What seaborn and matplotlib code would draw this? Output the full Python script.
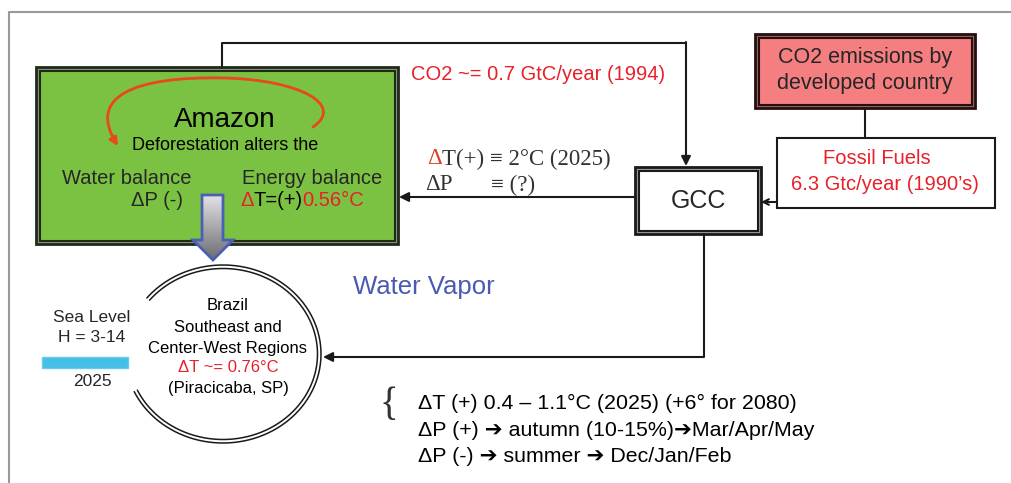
import numpy as np
import matplotlib
matplotlib.use("Agg")
import matplotlib.pyplot as plt
import seaborn as sns
from matplotlib.patches import Rectangle, Polygon, FancyArrowPatch
from matplotlib.path import Path

# Labels used in the diagram
amazon_title = "Amazon"
amazon_sub = "Deforestation alters the"
balance_labels = ["Water balance", "Energy balance"]
co2_link = "CO2 ~= 0.7 GtC/year (1994)"
emission_lines = ["CO2 emissions by", "developed country"]
fossil_lines = ["Fossil Fuels", "6.3 Gtc/year (1990\u2019s)"]
gcc_label = "GCC"
gcc_effects = ["T(+) \u2261 2\u00b0C (2025)", "\u2261 (?)"]
vapor_label = "Water Vapor"
region_lines = ["Brazil", "Southeast and", "Center-West Regions",
                "\u0394T ~= 0.76\u00b0C", "(Piracicaba, SP)"]
sea_lines = ["Sea Level", "H = 3-14", "2025"]
scenario_lines = ["\u0394T (+) 0.4 \u2013 1.1\u00b0C (2025) (+6\u00b0 for 2080)",
                  "\u0394P (+) \u2794 autumn (10-15%)\u2794Mar/Apr/May",
                  "\u0394P (-) \u2794 summer \u2794 Dec/Jan/Feb"]

sns.set_theme(style="white")
plt.rcParams['font.family'] = ['Liberation Sans', 'DejaVu Sans']
SERIF = ['Liberation Serif', 'DejaVu Serif']
RED = '#e8202a'
DARK = '#1a1a1a'

fig = plt.figure(figsize=(10.11, 4.83), dpi=100)
ax = fig.add_axes([0, 0, 1, 1])
ax.set_xlim(0, 1011)
ax.set_ylim(483, 0)
ax.axis('off')

# outer frame
ax.plot([9, 9, 1011], [483, 12, 12], color='#9a9a9a', lw=1.5)


def double_box(x0, y0, x1, y1, fill, edge, band):
    ax.add_patch(Rectangle((x0, y0), x1 - x0, y1 - y0, facecolor=band,
                           edgecolor=edge, lw=2, zorder=2))
    ax.add_patch(Rectangle((x0 + 3.5, y0 + 3.5), x1 - x0 - 7, y1 - y0 - 7,
                           facecolor=fill, edgecolor=edge, lw=1.5, zorder=2))


def arrow(p0, p1, style='-|>', lw=1.5, ms=14):
    ax.annotate("", xy=p1, xytext=p0,
                arrowprops=dict(arrowstyle=style, color=DARK, lw=lw,
                                mutation_scale=ms, shrinkA=0, shrinkB=0),
                zorder=3)


def chain(x, y, parts, **kw):
    # draw consecutive text pieces with their own colours
    t = ax.text(x, y, parts[0][0], ha='left', va='center', color=parts[0][1], **kw)
    for s, c in parts[1:]:
        t = ax.annotate(s, xycoords=t, xy=(1, 0.5), ha='left', va='center',
                        color=c, **kw)
    return t


# Amazon box
double_box(36, 67, 398, 244, '#7cc242', '#1f2a18', '#8a9480')
ax.text(225, 120, amazon_title, ha='center', va='center', fontsize=20, color='black', zorder=4)
ax.text(225, 146, amazon_sub, ha='center', va='center', fontsize=13, color='black', zorder=4)
ax.text(127, 178, balance_labels[0], ha='center', va='center', fontsize=14.5, zorder=4)
ax.text(312, 178, balance_labels[1], ha='center', va='center', fontsize=14.5, zorder=4)
ax.text(183, 201, "\u0394P (-)", ha='right', va='center', fontsize=14.5, zorder=4)
chain(240, 201, [("\u0394", RED), ("T=(+)", 'black'), ("0.56\u00b0C", RED)],
      fontsize=14.5, zorder=4)

# curved red arrow inside the Amazon box
verts = [(313, 127), (345, 105), (300, 80), (225, 78),
         (130, 76), (88, 98), (118, 146)]
codes = [Path.MOVETO, Path.CURVE4, Path.CURVE4, Path.CURVE4,
         Path.CURVE4, Path.CURVE4, Path.CURVE4]
ax.add_patch(FancyArrowPatch(path=Path(verts, codes), arrowstyle='-|>',
                             mutation_scale=12, color='#e8481c', lw=2, zorder=4))

# gradient down arrow (Amazon -> region)
arrow_pts = np.array([[202, 195], [223, 195], [223, 240], [233, 240],
                      [213, 260], [193, 240], [202, 240]])
poly = Polygon(arrow_pts, closed=True, facecolor='none', edgecolor='#4a5fb5',
               lw=2, zorder=6)
ax.add_patch(poly)
grad = np.linspace(0, 1, 64).reshape(-1, 1)
im = ax.imshow(grad, cmap=sns.blend_palette(['#e2e2e6', '#6c6c72'], as_cmap=True),
               extent=(193, 233, 260, 195), aspect='auto', zorder=5)
im.set_clip_path(poly)

# link from Amazon top to GCC
ax.plot([222, 222, 686], [67, 43, 43], color=DARK, lw=1.5, zorder=3)
arrow((686, 42), (686, 166))
ax.text(411, 74, co2_link, ha='left', va='center', fontsize=14.5, color=RED)

# CO2 emission box
double_box(755, 34, 975, 108, '#f47e80', '#2a0e0e', '#8a6a6a')
ax.text(865, 58, emission_lines[0], ha='center', va='center', fontsize=15.5, zorder=4)
ax.text(865, 84, emission_lines[1], ha='center', va='center', fontsize=15.5, zorder=4)
ax.plot([865, 865], [108, 138], color=DARK, lw=1.5)

# fossil fuels box
ax.add_patch(Rectangle((777, 138), 218, 70, facecolor='white', edgecolor=DARK, lw=1.5))
ax.text(877, 159, fossil_lines[0], ha='center', va='center', fontsize=14.5, color=RED)
ax.text(885, 185, fossil_lines[1], ha='center', va='center', fontsize=14.5, color=RED)
arrow((777, 202), (761, 202), style='->', ms=10)

# GCC box
double_box(635, 167, 761, 234, 'white', DARK, '#9a9a9a')
ax.text(698, 201, gcc_label, ha='center', va='center', fontsize=18, zorder=4)

# GCC -> Amazon
arrow((635, 197), (399, 197))
chain(427, 159, [("\u0394", '#d9402a'), (gcc_effects[0], '#333333')],
      fontsize=16.5, family=SERIF)
ax.text(425, 185, "\u0394P", ha='left', va='center', fontsize=16.5, color='#333333',
        family=SERIF)
ax.text(491, 185, gcc_effects[1], ha='left', va='center', fontsize=16.5,
        color='#333333', family=SERIF)

# GCC -> region
ax.plot([704, 704, 340], [234, 357, 357], color=DARK, lw=1.5)
arrow((340, 357), (323, 357))

ax.text(424, 287, vapor_label, ha='center', va='center', fontsize=18.5, color='#4a5ab0')

# region circle (double line with a gap on the left)
cx, cy, rx, ry = 223, 354, 98, 89
th = np.radians(np.linspace(-155, 141, 300))
for d in (0, 3.5):
    ax.plot(cx + (rx - d) * np.cos(th), cy - (ry - d) * np.sin(th), color=DARK, lw=1.1)
ys = [305, 327, 348, 368, 389]
for line, y in zip(region_lines, ys):
    ax.text(228, y, line, ha='center', va='center', fontsize=12,
            color=RED if line.startswith("\u0394") else 'black')

# sea level
ax.text(92, 318, sea_lines[0], ha='center', va='center', fontsize=12.5)
ax.text(92, 338, sea_lines[1], ha='center', va='center', fontsize=12.5)
ax.add_patch(Rectangle((42, 357), 86, 11, facecolor='#45bfe6', edgecolor='#6ccbe8',
                       lw=1))
ax.text(92, 382, sea_lines[2], ha='center', va='center', fontsize=12.5)

# scenario notes
ax.text(389, 406, "{", ha='center', va='center', fontsize=28, color='#333333',
        family=SERIF)
for line, y in zip(scenario_lines, [403, 430, 456]):
    ax.text(418, y, line, ha='left', va='center', fontsize=15.4, color='black')

fig.savefig("out.png", dpi=100)
